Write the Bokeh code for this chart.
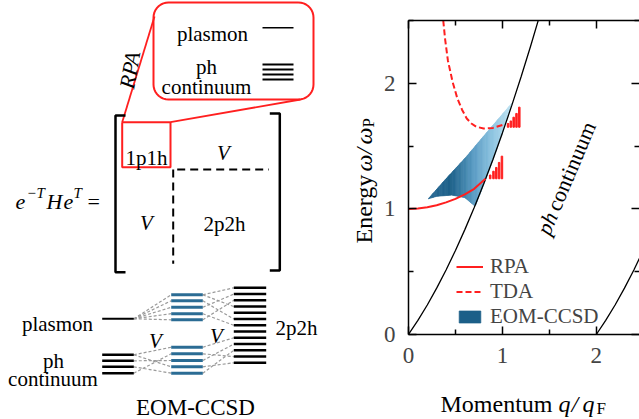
import numpy as np
from bokeh.plotting import figure
from bokeh.models import Range1d, LinearAxis, FixedTicker, Label, Legend, LegendItem
from bokeh.layouts import row, column
from bokeh.embed import file_html
from bokeh.resources import INLINE

FONT = "Liberation Serif"
RED = "#ff1f1f"
BLUE_LINE = "#2b6c94"
GRAY = "#9a9a9a"

# ---------------- right panel data ----------------
q_cont_up = [0.0, 0.1, 0.2, 0.3, 0.4, 0.5, 0.6, 0.7, 0.8, 0.9, 1.0, 1.1, 1.2, 1.3, 1.4]
w_cont_up = [0.0, 0.112, 0.235, 0.369, 0.514, 0.669, 0.835, 1.011, 1.198, 1.396, 1.605, 1.824, 2.054, 2.295, 2.547]
q_cont_lo = [2.0, 2.1, 2.2, 2.3, 2.4, 2.5]
w_cont_lo = [0.0, 0.112, 0.235, 0.369, 0.514, 0.669]

q_rpa = [0.0, 0.1, 0.2, 0.3, 0.4, 0.5, 0.6, 0.7, 0.82]
w_rpa = [1.0, 1.003, 1.013, 1.029, 1.052, 1.08, 1.115, 1.16, 1.24]

q_tda = [0.37, 0.39, 0.42, 0.47, 0.52, 0.57, 0.62, 0.67, 0.72, 0.8, 0.9, 1.03]
w_tda = [2.5, 2.35, 2.18, 2.01, 1.88, 1.79, 1.72, 1.68, 1.655, 1.64, 1.645, 1.675]

rpa_bar_q = [0.87, 0.905, 0.935, 0.965, 0.995]
rpa_bar_top = [1.27, 1.30, 1.33, 1.37, 1.42]
rpa_bar_base = 1.24
tda_bar_q = [1.06, 1.09, 1.12, 1.15, 1.18]
tda_bar_top = [1.68, 1.70, 1.73, 1.76, 1.81]
tda_bar_base = 1.65

eom_up_q = [0.21, 0.40, 0.61, 0.79, 0.95, 1.11]
eom_up_w = [1.08, 1.24, 1.41, 1.57, 1.71, 1.85]
eom_lo_q = [0.21, 0.30, 0.46, 0.60, 0.71, 0.80, 0.90, 1.00, 1.11]
eom_lo_w = [1.08, 1.10, 1.11, 1.09, 1.02, 1.19, 1.39, 1.60, 1.85]
eom_col_q = [0.21, 0.45, 0.70, 0.90, 1.11]
eom_col = ["#2a6b96", "#1b5f88", "#5a9cc4", "#8fc5e1", "#c2e6f4"]

x_ticks = [0, 1, 2]
x_minor = [0.5, 1.5, 2.5]
y_ticks = [0, 1, 2]
y_minor = [0.5, 1.5, 2.5]
legend_labels = ["RPA", "TDA", "EOM-CCSD"]

# ---------------- left diagram data (page pixel coordinates) ----------------
callout_box = [153, 2, 313, 99, 15]
callout_links_x = [[121.7, 154.0], [170.0, 300.0]]
callout_links_y = [[121.7, 16.0], [121.7, 99.0]]
one_p_box = [121.7, 121.7, 170.0, 166.7]
callout_plasmon_y = [27.3]
callout_ph_y = [64, 69, 74, 79]
callout_line_x = [262, 293]

bracket_left = [115, 115, 271.7]
bracket_right = [279.3, 113, 270]
dash_h = [176.7, 268.3, 169]
dash_v = [172.7, 169, 263.3]

plasmon_y = [318.3]
ph_y = [354.3, 360.3, 366.3, 372.7]
blue_up_y = [294.3, 300.3, 306.8, 313.2, 319.3]
blue_lo_y = [346.7, 353.3, 360.0, 366.3, 372.7]
p2h_y = [287.3, 293.6, 299.8, 306.1, 312.3, 318.6, 324.8, 331.1, 337.3, 343.6, 349.8, 356.1, 362.3]
col_left_x = [101.7, 133.3]
col_mid_x = [170.7, 202.3]
col_right_x = [233.3, 265.7]
links_ph_blue = [(0, 0), (0, 3), (1, 2), (3, 1), (2, 4)]
links_up_2p2h = [(0, 0), (0, 3), (1, 5), (2, 1), (3, 6), (4, 2)]
links_lo_2p2h = [(0, 8), (1, 11), (2, 9), (3, 12), (4, 10)]


def hex2rgb(h):
    h = h.lstrip("#")
    return [int(h[i:i + 2], 16) for i in (0, 2, 4)]


def label(fig, x, y, text, size, italic=False, angle=0.0, align="left", baseline="alphabetic", color="black"):
    fig.add_layout(Label(x=x, y=y, text=text, text_font=FONT, text_font_size=f"{size}px",
                         text_font_style="italic" if italic else "normal", angle=angle,
                         text_align=align, text_baseline=baseline, text_color=color))


def blank(fig):
    fig.grid.visible = False
    fig.outline_line_color = None
    fig.background_fill_color = None
    fig.border_fill_color = None


LEFT_W = 380
CHART_H = 378

# ======================= chart figure =======================
p = figure(width=639 - LEFT_W, height=CHART_H, x_range=Range1d(0, 2.46), y_range=Range1d(0, 2.5),
           output_backend="svg", toolbar_location=None, x_axis_location=None, y_axis_location=None,
           min_border_left=405 - LEFT_W, min_border_right=0, min_border_top=20,
           min_border_bottom=CHART_H - 334)
blank(p)
p.frame_align = False


def make_axis(ticks, minor, show_labels, line=True):
    ax = LinearAxis(ticker=FixedTicker(ticks=ticks, minor_ticks=minor))
    ax.major_tick_in = 8
    ax.major_tick_out = 0
    ax.minor_tick_in = 5
    ax.minor_tick_out = 0
    ax.axis_line_width = 1.5
    ax.major_tick_line_width = 1.5
    ax.minor_tick_line_width = 1.5
    ax.major_label_text_font = FONT
    if show_labels:
        ax.major_label_text_font_size = "23px"
        ax.major_label_standoff = 13
    else:
        ax.major_label_text_font_size = "1px"
        ax.major_label_text_color = None
        ax.major_label_standoff = 0
    if not line:
        ax.axis_line_color = None
    return ax


p.add_layout(make_axis(x_ticks, x_minor, True), "below")
p.add_layout(make_axis(y_ticks, y_minor, True), "left")
p.add_layout(make_axis(x_ticks, x_minor, False), "above")
p.add_layout(make_axis(y_ticks, y_minor, False, line=False), "right")

# gradient-filled EOM-CCSD region, drawn as thin vertical strips
edges = np.linspace(eom_up_q[0], eom_up_q[-1], 70)
rgb = np.array([hex2rgb(c) for c in eom_col], dtype=float)
xs, ys, cols, lum = [], [], [], []
for a, b in zip(edges[:-1], edges[1:]):
    ua, ub = np.interp([a, b], eom_up_q, eom_up_w)
    la, lb = np.interp([a, b], eom_lo_q, eom_lo_w)
    xs.append([a, b, b, a])
    ys.append([la, lb, ub, ua])
    m = 0.5 * (a + b)
    c = [int(round(np.interp(m, eom_col_q, rgb[:, k]))) for k in range(3)]
    cols.append("#%02x%02x%02x" % tuple(c))
    lum.append(sum(c))
r_eom = p.patches(xs, ys, fill_color=cols, line_color=cols, line_width=0.7)
dark_index = int(np.argmin(lum))

p.line(q_cont_up, w_cont_up, color="black", line_width=1.3)
p.line(q_cont_lo, w_cont_lo, color="black", line_width=1.3)

r_rpa = p.line(q_rpa, w_rpa, color=RED, line_width=2)
r_tda = p.line(q_tda, w_tda, color=RED, line_width=2, line_dash="6 3")
p.vbar(x=rpa_bar_q, bottom=rpa_bar_base, top=rpa_bar_top, width=0.016, color=RED)
p.vbar(x=tda_bar_q, bottom=tda_bar_base, top=tda_bar_top, width=0.016, color=RED)

leg = Legend(items=[LegendItem(label=legend_labels[0], renderers=[r_rpa]),
                    LegendItem(label=legend_labels[1], renderers=[r_tda]),
                    LegendItem(label=legend_labels[2], renderers=[r_eom], index=dark_index)],
             location=(48, 5), label_text_font=FONT, label_text_font_size="21px",
             glyph_width=27, glyph_height=15, label_standoff=7, spacing=0, padding=0, margin=0,
             background_fill_alpha=0, border_line_alpha=0)
p.add_layout(leg)


def dx(px):
    return (px - 405) / 95.1


def dy(py):
    return (334 - py) / 125.6


# ph continuum text
a67 = np.deg2rad(67)
label(p, dx(541), dy(233), "ph", 22, italic=True, angle=a67)
label(p, dx(541 + 0.391 * 26), dy(233 - 0.921 * 26), "continuum", 22, angle=a67)

# ======================= x-axis title strip =======================
xl = figure(width=639 - LEFT_W, height=419 - CHART_H, x_range=Range1d(LEFT_W, 639),
            y_range=Range1d(419, CHART_H),
            output_backend="svg", toolbar_location=None, x_axis_location=None, y_axis_location=None,
            min_border=0)
blank(xl)
xl.frame_align = False
label(xl, 440, 403, "Momentum", 24)
label(xl, 558, 403, "q", 24, italic=True)
label(xl, 571, 403, "/", 24, italic=True)
label(xl, 582, 403, "q", 24, italic=True)
label(xl, 596, 408, "F", 17)

# ======================= left diagram =======================
d = figure(width=LEFT_W, height=419, x_range=Range1d(0, LEFT_W), y_range=Range1d(419, 0),
           output_backend="svg", toolbar_location=None, x_axis_location=None, y_axis_location=None,
           min_border=0)
blank(d)
d.frame_align = False

# y-axis title of the chart (rotated)
ang = np.pi / 2
label(d, 363, 243, "Energy", 24, angle=ang)
label(d, 363, 171, "ω", 24, italic=True, angle=ang)
label(d, 363, 154, "/", 24, italic=True, angle=ang)
label(d, 363, 144, "ω", 24, italic=True, angle=ang)
label(d, 368, 127, "P", 17, angle=ang)

# callout rounded box
x0, y0, x1, y1, rr = callout_box
cx, cy = [], []
for (ccx, ccy, t0, t1) in [(x1 - rr, y0 + rr, -np.pi / 2, 0), (x1 - rr, y1 - rr, 0, np.pi / 2),
                           (x0 + rr, y1 - rr, np.pi / 2, np.pi), (x0 + rr, y0 + rr, np.pi, 1.5 * np.pi)]:
    t = np.linspace(t0, t1, 10)
    cx += list(ccx + rr * np.cos(t))
    cy += list(ccy + rr * np.sin(t))
cx.append(cx[0])
cy.append(cy[0])
d.line(cx, cy, color=RED, line_width=2)
d.multi_line(callout_links_x, callout_links_y, color=RED, line_width=1.8)
bx0, by0, bx1, by1 = one_p_box
d.line([bx0, bx1, bx1, bx0, bx0], [by0, by0, by1, by1, by0], color=RED, line_width=2)

label(d, 212, 33, "plasmon", 21, align="center")
d.line(callout_line_x, [callout_plasmon_y[0]] * 2, color="black", line_width=1.6)
label(d, 206, 66.7, "ph", 21, align="center")
label(d, 206, 86, "continuum", 21, align="center")
d.multi_line([callout_line_x] * len(callout_ph_y), [[v, v] for v in callout_ph_y], color="black", line_width=2)
label(d, 126, 88, "RPA", 22, italic=True, angle=np.deg2rad(80))

# matrix
lx, ly0, ly1 = bracket_left
d.line([lx + 10, lx, lx, lx + 10], [ly0, ly0, ly1, ly1], color="black", line_width=2.5)
rx, ry0, ry1 = bracket_right
d.line([rx - 10, rx, rx, rx - 10], [ry0, ry0, ry1, ry1], color="black", line_width=2.5)
d.line(dash_h[:2], [dash_h[2]] * 2, color="black", line_width=2, line_dash="8 5")
d.line([dash_v[0]] * 2, dash_v[1:], color="black", line_width=2, line_dash="8 5")
label(d, 146, 157, "1p1h", 21, align="center")
label(d, 223, 152, "V", 21, italic=True, align="center")
label(d, 146, 222, "V", 21, italic=True, align="center")
label(d, 224, 223, "2p2h", 21, align="center")

label(d, 15, 201, "e", 22, italic=True)
label(d, 26, 192, "−T", 15, italic=True)
label(d, 46, 201, "H", 22, italic=True)
label(d, 63, 201, "e", 22, italic=True)
label(d, 73, 192, "T", 15, italic=True)
label(d, 87, 201, "=", 22)

# level diagram
gx, gy = [], []
for yb in blue_up_y:
    gx.append([col_left_x[1], col_mid_x[0]])
    gy.append([plasmon_y[0], yb])
for i, j in links_ph_blue:
    gx.append([col_left_x[1], col_mid_x[0]])
    gy.append([ph_y[i], blue_lo_y[j]])
for i, j in links_up_2p2h:
    gx.append([col_mid_x[1], col_right_x[0]])
    gy.append([blue_up_y[i], p2h_y[j]])
for i, j in links_lo_2p2h:
    gx.append([col_mid_x[1], col_right_x[0]])
    gy.append([blue_lo_y[i], p2h_y[j]])
d.multi_line(gx, gy, color=GRAY, line_width=1.2, line_dash="3 2")

d.multi_line([col_left_x], [[plasmon_y[0]] * 2], color="black", line_width=2)
d.multi_line([col_left_x] * len(ph_y), [[v, v] for v in ph_y], color="black", line_width=2.5)
d.multi_line([col_mid_x] * len(blue_up_y), [[v, v] for v in blue_up_y], color=BLUE_LINE, line_width=3)
d.multi_line([col_mid_x] * len(blue_lo_y), [[v, v] for v in blue_lo_y], color=BLUE_LINE, line_width=3)
d.multi_line([col_right_x] * len(p2h_y), [[v, v] for v in p2h_y], color="black", line_width=2.5)

label(d, 57, 323, "plasmon", 21, align="center")
label(d, 53, 360, "ph", 21, align="center")
label(d, 52.5, 378.3, "continuum", 21, align="center")
label(d, 155, 340, "V", 21, italic=True, align="center")
label(d, 216, 335, "V", 21, italic=True, align="center")
label(d, 296, 327.3, "2p2h", 21, align="center")
label(d, 195, 406.7, "EOM-CCSD", 23, align="center")

layout = row(d, column(p, xl))
open("out.html", "w").write(file_html(layout, INLINE))
